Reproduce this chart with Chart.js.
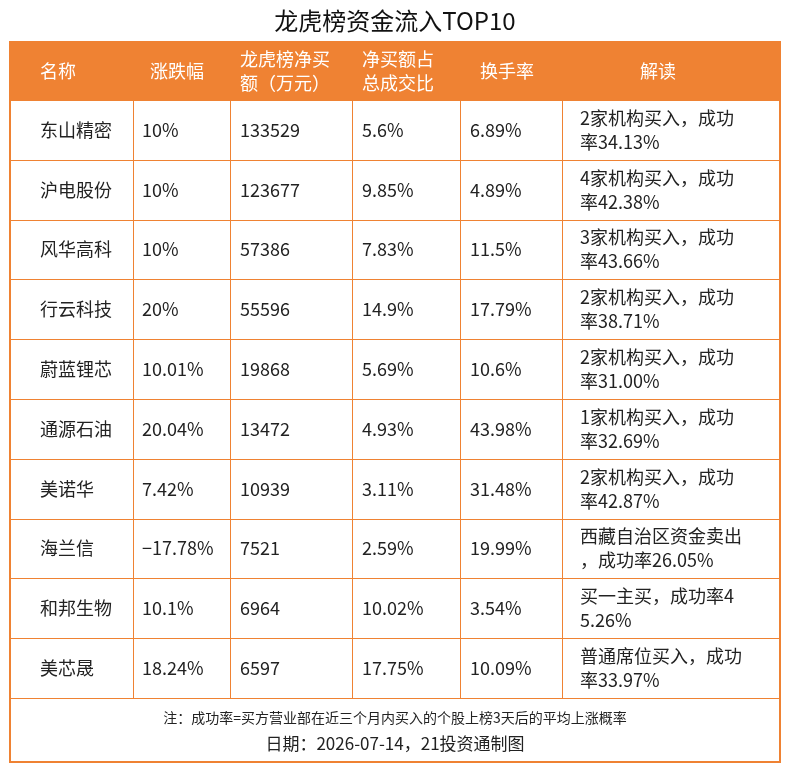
<!DOCTYPE html>
<html><head><meta charset="utf-8">
<script src="https://cdn.jsdelivr.net/npm/chart.js@4/dist/chart.umd.min.js"></script>
<style>html,body{margin:0;background:#fff}#wrap{width:790px;height:770px}</style>
</head><body><div id="wrap"><canvas id="c"></canvas></div>
<script>
const title = "龙虎榜资金流入TOP10";
const headers = [["名称"], ["涨跌幅"], ["龙虎榜净买", "额（万元）"], ["净买额占", "总成交比"], ["换手率"], ["解读"]];
const names = ["东山精密", "沪电股份", "风华高科", "行云科技", "蔚蓝锂芯", "通源石油", "美诺华", "海兰信", "和邦生物", "美芯晟"];
const changes = ["10%", "10%", "10%", "20%", "10.01%", "20.04%", "7.42%", "−17.78%", "10.1%", "18.24%"];
const netBuy = [133529, 123677, 57386, 55596, 19868, 13472, 10939, 7521, 6964, 6597];
const ratios = ["5.6%", "9.85%", "7.83%", "14.9%", "5.69%", "4.93%", "3.11%", "2.59%", "10.02%", "17.75%"];
const turnover = ["6.89%", "4.89%", "11.5%", "17.79%", "10.6%", "43.98%", "31.48%", "19.99%", "3.54%", "10.09%"];
const notes = [
  ["2家机构买入，成功", "率34.13%"], ["4家机构买入，成功", "率42.38%"], ["3家机构买入，成功", "率43.66%"],
  ["2家机构买入，成功", "率38.71%"], ["2家机构买入，成功", "率31.00%"], ["1家机构买入，成功", "率32.69%"],
  ["2家机构买入，成功", "率42.87%"], ["西藏自治区资金卖出", "，成功率26.05%"], ["买一主买，成功率4", "5.26%"],
  ["普通席位买入，成功", "率33.97%"]
];
const footNote = "注：成功率=买方营业部在近三个月内买入的个股上榜3天后的平均上涨概率";
const dateLine = "日期：2026-07-14，21投资通制图";

// layout
const ORANGE = "#ef8233";
const FONT = '"Noto Sans CJK SC", sans-serif';
const colEdges = [0, 123, 220, 342, 450, 552, 770]; // relative to left 10
const headTextX = [30, 140, 230, 352, 470, 630];
const cellTextX = [30, 132, 230, 352, 460, 570];

const tablePlugin = {
  id: "table",
  afterDraw(chart) {
    const ctx = chart.ctx, y = chart.scales.y, a = chart.chartArea;
    const L = a.left, R = a.right;
    const band = y.getPixelForValue(1) - y.getPixelForValue(0);
    ctx.save();
    // title
    ctx.fillStyle = "#111"; ctx.font = "24px " + FONT; ctx.textAlign = "center"; ctx.textBaseline = "middle";
    ctx.fillText(title, 395, 21);
    // header
    const hTop = 42;
    ctx.fillStyle = ORANGE; ctx.fillRect(L, hTop, R - L, a.top - hTop);
    ctx.fillStyle = "#fff"; ctx.font = "18px " + FONT; ctx.textAlign = "left";
    headers.forEach((h, i) => {
      const cy = (hTop + a.top) / 2;
      if (h.length === 1) ctx.fillText(h[0], L + headTextX[i], cy);
      else { ctx.fillText(h[0], L + headTextX[i], cy - 12); ctx.fillText(h[1], L + headTextX[i], cy + 12); }
    });
    // rows
    ctx.font = "18px " + FONT; ctx.fillStyle = "#222";
    names.forEach((n, r) => {
      const cy = y.getPixelForValue(r);
      const vals = [n, changes[r], String(netBuy[r]), ratios[r], turnover[r]];
      vals.forEach((v, i) => ctx.fillText(v, L + cellTextX[i], cy));
      ctx.fillText(notes[r][0], L + cellTextX[5], cy - 12);
      ctx.fillText(notes[r][1], L + cellTextX[5], cy + 12);
    });
    // grid
    ctx.strokeStyle = ORANGE; ctx.lineWidth = 1;
    for (let r = 0; r <= names.length; r++) {
      const yy = Math.round(y.getPixelForValue(r) - band / 2) + 0.5;
      ctx.beginPath(); ctx.moveTo(L, yy); ctx.lineTo(R, yy); ctx.stroke();
    }
    colEdges.forEach(e => {
      const xx = Math.round(L + e) + 0.5;
      ctx.beginPath(); ctx.moveTo(xx, a.top); ctx.lineTo(xx, a.bottom); ctx.stroke();
    });
    // footer
    ctx.fillStyle = "#222"; ctx.textAlign = "center";
    ctx.font = "14px " + FONT; ctx.fillText(footNote, 395, a.bottom + 20);
    ctx.font = "17px " + FONT; ctx.fillText(dateLine, 395, a.bottom + 46);
    ctx.lineWidth = 2; ctx.strokeRect(L, hTop, R - L, 762 - hTop);
    ctx.restore();
  }
};

new Chart(document.getElementById("c"), {
  type: "bar",
  data: { labels: names, datasets: [{ data: netBuy, backgroundColor: "rgba(0,0,0,0)" }] },
  options: {
    responsive: true, maintainAspectRatio: false, animation: false, indexAxis: "y",
    layout: { padding: { top: 100, bottom: 72, left: 10, right: 10 } },
    plugins: { legend: { display: false }, tooltip: { enabled: false } },
    scales: { x: { display: false }, y: { display: false, offset: true } }
  },
  plugins: [tablePlugin]
});
</script></body></html>
